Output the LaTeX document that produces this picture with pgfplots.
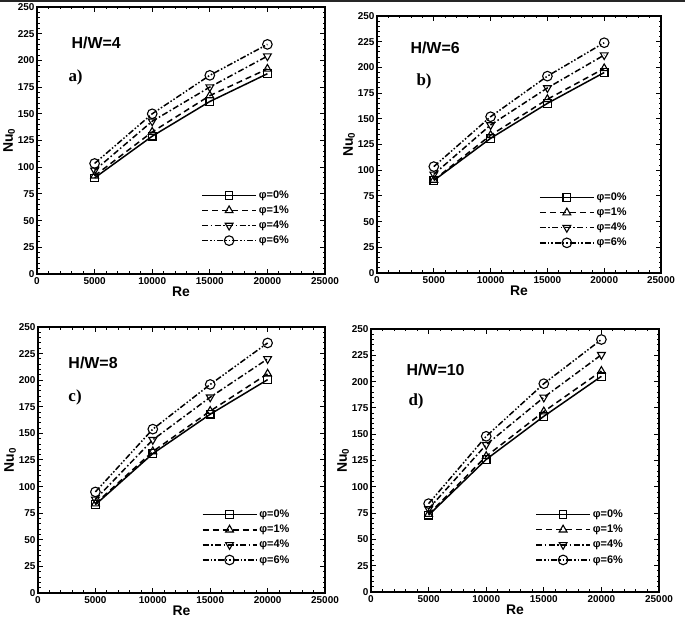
\documentclass[border=0pt]{standalone}
\usepackage{fontspec}
\setmainfont{Liberation Sans}
\newfontfamily\serif{Liberation Serif}
\usepackage{pgfplots}
\pgfplotsset{compat=1.18}

\pgfplotsset{
  panel/.style={
    scale only axis, anchor=south west,
    xmin=0, xmax=25000, ymin=0, ymax=250,
    xtick={0,5000,...,25000}, ytick={0,25,...,250},
    minor x tick num=4, minor y tick num=4,
    tick align=inside, major tick length=5bp, minor tick length=2.5bp,
    axis line style={line width=1.6bp},
    every tick/.style={black, line width=1bp},
    scaled x ticks=false,
    xticklabel style={/pgf/number format/1000 sep={}},
    /pgf/number format/assume math mode=true,
    tick label style={font=\bfseries\fontsize{10}{11}\selectfont},
    yticklabel style={xshift=1bp},
    xlabel={\textbf{Re}}, ylabel={\textbf{Nu\textsubscript{0}}},
    label style={font=\bfseries\fontsize{14}{15}\selectfont},
    xlabel style={yshift=5bp},
    ylabel style={yshift=-4bp},
    legend style={at={(0.57,0.32)}, anchor=north west, draw=none, fill=none,
      inner sep=0pt, row sep=2pt, font=\bfseries\fontsize{11}{12}\selectfont},
    legend cell align=left,
    legend image code/.code={\draw[mark repeat=2,mark phase=2,#1]
      plot coordinates {(0bp,0bp) (27bp,0bp) (54bp,0bp)};},
  },
  s0/.style={black, line width=1.5bp, solid, mark=square, mark size=3.8bp,
    mark options={solid, fill=white, line width=1.1bp}},
  s1/.style={black, line width=1.5bp, dash pattern=on 6bp off 4bp, mark=triangle,
    mark size=4.5bp, mark options={solid, fill=white, line width=1.1bp}},
  s2/.style={black, line width=1.5bp, dash pattern=on 6bp off 2.5bp on 1.5bp off 2.5bp,
    mark=triangle, mark size=4.5bp, mark options={solid, fill=white, rotate=180, line width=1.1bp}},
  s3/.style={black, line width=1.5bp, dash pattern=on 6bp off 2bp on 1.5bp off 2bp on 1.5bp off 2bp,
    mark=o, mark size=4.8bp, mark options={solid, fill=white, line width=1.1bp}},
}

\newcommand{\hw}[1]{\bfseries\fontsize{16}{17}\selectfont H/W=#1}
\newcommand{\lab}[1]{\serif\bfseries\fontsize{17}{18}\selectfont #1}

\begin{document}
\begin{tikzpicture}
\path[use as bounding box] (0,0) rectangle (685bp,627bp);
\fill[black!85] (0,624.5bp) rectangle (685bp,627bp);

% a) H/W=4
\begin{axis}[panel, at={(37bp,353bp)}, width=288bp, height=267bp]
\addplot[s0] coordinates {(5000,90) (10000,129) (15000,161.5) (20000,187.5)};
\addplot[s1] coordinates {(5000,92) (10000,133) (15000,167) (20000,192)};
\addplot[s2] coordinates {(5000,97) (10000,143) (15000,175) (20000,204)};
\addplot[s3] coordinates {(5000,103.5) (10000,150) (15000,186) (20000,215)};
\legend{φ=0\%, φ=1\%, φ=4\%, φ=6\%}
\node[anchor=west] at (axis cs:2700,216) {\hw{4}};
\node[anchor=west] at (axis cs:2430,184) {\lab{a)}};
\end{axis}

% b) H/W=6
\begin{axis}[panel, at={(377bp,354bp)}, width=284bp, height=257bp]
\addplot[s0] coordinates {(5000,90) (10000,131) (15000,165) (20000,195)};
\addplot[s1] coordinates {(5000,90.5) (10000,134) (15000,169) (20000,199)};
\addplot[s2] coordinates {(5000,96) (10000,144) (15000,180) (20000,212)};
\addplot[s3] coordinates {(5000,103.5) (10000,152) (15000,191.5) (20000,224)};
\legend{φ=0\%, φ=1\%, φ=4\%, φ=6\%}
\node[anchor=west] at (axis cs:2640,219) {\hw{6}};
\node[anchor=west] at (axis cs:3170,186) {\lab{b)}};
\end{axis}

% c) H/W=8
\begin{axis}[panel, at={(38bp,34bp)}, width=287bp, height=266bp]
\addplot[s0] coordinates {(5000,83) (10000,131) (15000,168) (20000,200.5)};
\addplot[s1] coordinates {(5000,84) (10000,133) (15000,171) (20000,206)};
\addplot[s2] coordinates {(5000,88) (10000,144) (15000,184) (20000,220)};
\addplot[s3] coordinates {(5000,95) (10000,154) (15000,196) (20000,235)};
\legend{φ=0\%, φ=1\%, φ=4\%, φ=6\%}
\node[anchor=west] at (axis cs:2350,216) {\hw{8}};
\node[anchor=west] at (axis cs:2350,184) {\lab{c)}};
\end{axis}

% d) H/W=10
\begin{axis}[panel, at={(371bp,35bp)}, width=288bp, height=263bp]
\addplot[s0] coordinates {(5000,73) (10000,126) (15000,167) (20000,205)};
\addplot[s1] coordinates {(5000,74) (10000,129) (15000,171.5) (20000,210)};
\addplot[s2] coordinates {(5000,79) (10000,140) (15000,185) (20000,225.5)};
\addplot[s3] coordinates {(5000,84) (10000,148) (15000,198) (20000,240)};
\legend{φ=0\%, φ=1\%, φ=4\%, φ=6\%}
\node[anchor=west] at (axis cs:2780,211) {\hw{10}};
\node[anchor=west] at (axis cs:2950,181) {\lab{d)}};
\end{axis}
\end{tikzpicture}
\end{document}
